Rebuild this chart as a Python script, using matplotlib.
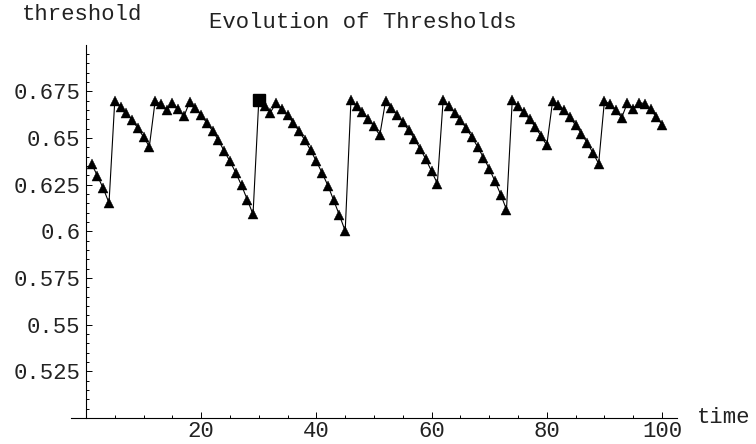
import matplotlib
matplotlib.use("Agg")
import matplotlib.pyplot as plt
from matplotlib.ticker import FixedLocator

W, H, DPI = 756, 444, 100

# threshold per time step, t = 1..100
threshold = [
    0.636, 0.6296, 0.623, 0.6152,
    0.670, 0.6668, 0.6634, 0.6596, 0.6553, 0.6505, 0.6454,
    0.6696, 0.6682, 0.6648,
    0.6689, 0.6654, 0.6616,
    0.6693, 0.6661, 0.6621, 0.658, 0.6537, 0.6488, 0.6429, 0.6375, 0.6314, 0.6246, 0.617, 0.6091,
    0.6702, 0.6671, 0.6636,
    0.6687, 0.6657, 0.6621, 0.658, 0.6536, 0.6488, 0.6434, 0.6375, 0.6312, 0.6245, 0.6166, 0.6086, 0.6002,
    0.6702, 0.6671, 0.6639, 0.6604, 0.6562, 0.6514,
    0.6696, 0.6661, 0.6625, 0.6586, 0.6541, 0.6497, 0.6443, 0.6386, 0.6321, 0.6256,
    0.6702, 0.6671, 0.6636, 0.6595, 0.6553, 0.6505, 0.6452, 0.6395, 0.6336, 0.6268, 0.6197, 0.6116,
    0.6702, 0.6671, 0.6639, 0.66, 0.6559, 0.651, 0.6461,
    0.6696, 0.6679, 0.6648, 0.6612, 0.6568, 0.6523, 0.6475, 0.642, 0.6363,
    0.6698, 0.668, 0.6648, 0.6609,
    0.6689, 0.6657,
    0.6689, 0.6684, 0.6654, 0.6612, 0.6572,
]
time = list(range(1, len(threshold) + 1))
highlight_t = 30  # drawn as a square

xticks = [20, 40, 60, 80, 100]
xtick_labels = ["20", "40", "60", "80", "100"]
yticks = [0.525, 0.55, 0.575, 0.6, 0.625, 0.65, 0.675]
ytick_labels = ["0.525", "0.55", "0.575", "0.6", "0.625", "0.65", "0.675"]

FONT = "Liberation Mono"
FS = 16
TXT = "#222222"

fig = plt.figure(figsize=(W / DPI, H / DPI), dpi=DPI)
# axes box in pixels: x from -2.6 .. 102.6 -> 71..677, y 0.5..0.7 -> 418..44.6
ax = fig.add_axes([71 / W, (H - 418) / H, (677 - 71) / W, (418 - 44.6) / H])
ax.set_xlim(-2.6, 102.6)
ax.set_ylim(0.5, 0.7)

ax.plot(time, threshold, color="black", lw=0.8, zorder=2)
tri_idx = [i for i, t in enumerate(time) if t != highlight_t]
ax.plot(time, threshold, ls="none", marker="^", ms=7.5, mfc="black", mec="black",
        mew=0.3, markevery=tri_idx, zorder=3)
hi = time.index(highlight_t)
ax.plot([time[hi]], [threshold[hi]], ls="none", marker="s", ms=8.5, color="black", zorder=4)

for s in ("top", "right"):
    ax.spines[s].set_visible(False)
ax.spines["left"].set_position(("data", 0))
ax.spines["left"].set_bounds(0.5, 0.7)
for s in ("left", "bottom"):
    ax.spines[s].set_linewidth(0.8)

ax.xaxis.set_major_locator(FixedLocator(xticks))
ax.set_xticklabels(xtick_labels, family=FONT, fontsize=FS, color=TXT)
ax.xaxis.set_minor_locator(FixedLocator([t for t in range(5, 101, 5) if t not in xticks]))
ax.yaxis.set_major_locator(FixedLocator(yticks))
ax.set_yticklabels(ytick_labels, family=FONT, fontsize=FS, color=TXT)
ax.yaxis.set_minor_locator(FixedLocator([0.505 + 0.005 * k for k in range(39)]))

ax.tick_params(which="both", direction="in", width=0.7, color="black")
ax.tick_params(which="major", length=4.5)
ax.tick_params(which="minor", length=2.5)
ax.tick_params(axis="x", which="major", pad=2.5)
ax.tick_params(axis="y", which="major", pad=4)

fig.text(22 / W, 1 - 20 / H, "threshold", family=FONT, fontsize=FS, color=TXT,
         va="baseline", ha="left")
fig.text(209 / W, 1 - 28.5 / H, "Evolution of Thresholds", family=FONT, fontsize=FS,
         color=TXT, va="baseline", ha="left")
fig.text(697 / W, 1 - 423 / H, "time", family=FONT, fontsize=FS, color=TXT,
         va="baseline", ha="left")

fig.savefig("out.png", dpi=DPI)
